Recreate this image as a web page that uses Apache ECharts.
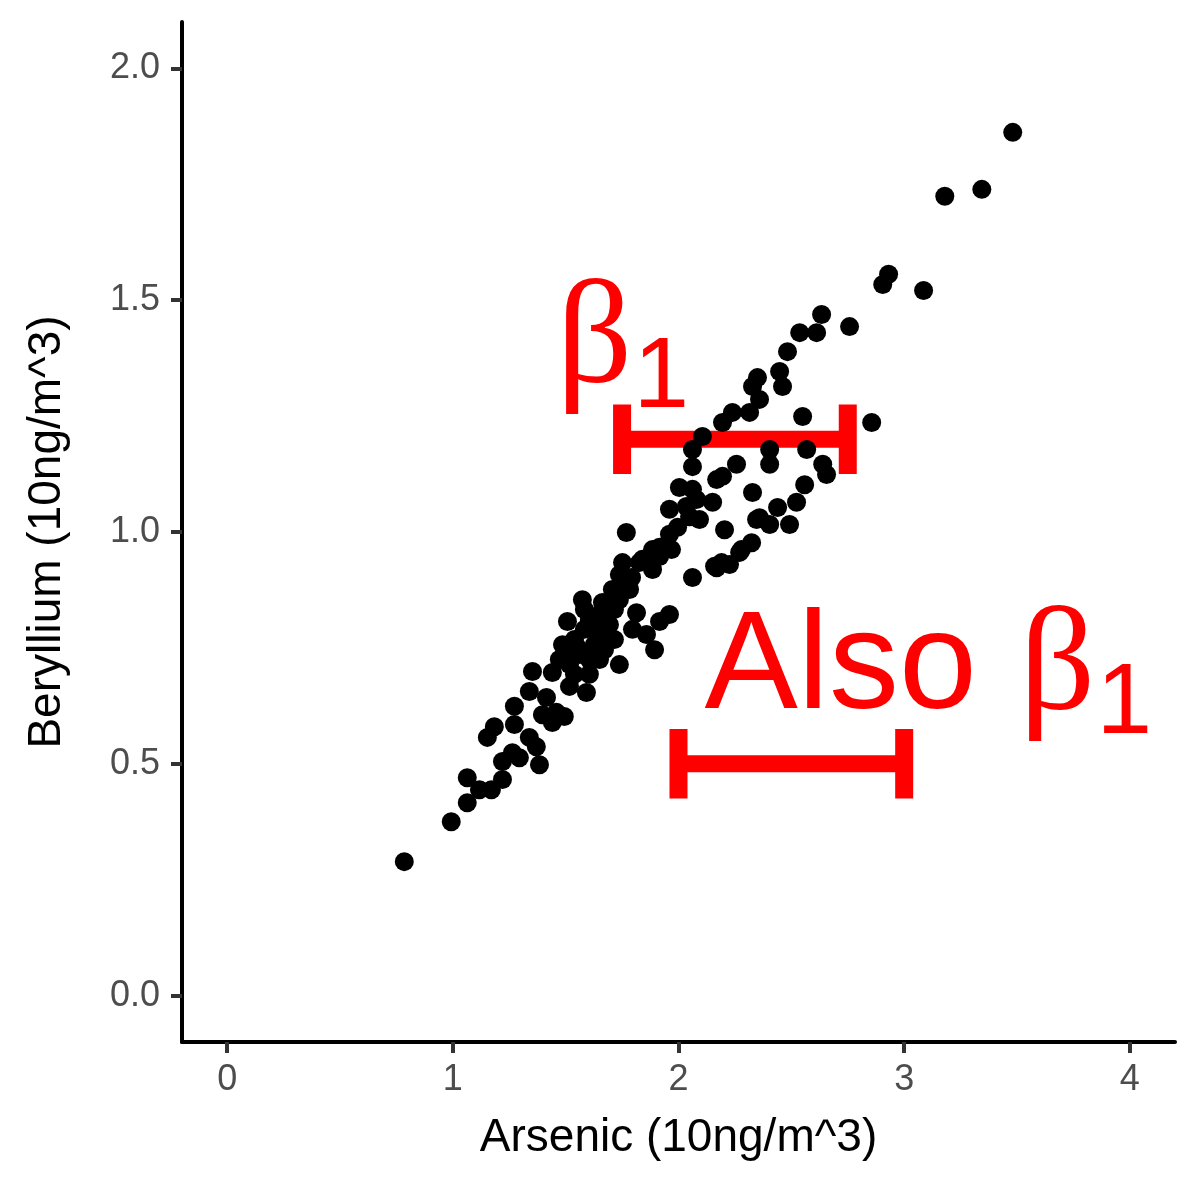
<!DOCTYPE html>
<html>
<head>
<meta charset="utf-8">
<script src="https://cdn.jsdelivr.net/npm/echarts@6/dist/echarts.min.js"></script>
<style>
html,body{margin:0;padding:0;background:#fff;}
#chart{width:1200px;height:1200px;}
</style>
</head>
<body>
<div id="chart"></div>
<script>
// ---- Data ----
const arsenic = [
  0.785,0.993,1.064,1.064,1.118,1.171,1.220,1.220,1.264,1.295,1.384,1.339,1.370,1.153,1.184,1.273,1.273,1.339,1.415,1.397,
  1.459,1.494,1.441,1.353,1.441,1.517,1.592,1.508,1.738,1.960,1.894,1.814,1.796,1.858,1.916,2.062,1.769,2.004,2.062,2.151,
  1.960,2.049,2.093,1.996,1.960,1.885,1.969,1.916,1.840,1.752,1.885,2.204,2.328,2.346,2.324,2.271,2.226,2.169,1.707,1.769,
  1.663,2.328,2.461,2.359,2.239,2.315,2.195,2.550,2.856,2.106,2.062,2.404,2.568,2.062,2.404,2.257,2.195,2.169,2.639,2.656,
  2.559,2.523,2.439,2.359,2.404,2.492,2.279,2.191,2.160,2.035,2.080,2.634,2.758,2.537,2.612,2.483,2.448,2.350,3.481,3.344,
  3.180,2.931,2.905,3.086,1.827,1.783,
  1.539,1.583,1.605,1.650,1.627,1.672,1.561,1.605,1.694,1.716,1.517,1.650,1.694,1.738,1.583,1.552,1.627,1.672,1.494,1.605,
  1.539,1.716,1.761,1.792,1.738,1.472,1.486,1.574,1.916
];
const beryllium = [
  0.289,0.375,0.416,0.470,0.444,0.444,0.466,0.505,0.524,0.513,0.498,0.557,0.537,0.557,0.580,0.585,0.624,0.656,0.643,0.606,
  0.611,0.602,0.589,0.699,0.697,0.667,0.654,0.807,0.714,0.822,0.746,0.826,0.790,0.779,0.807,0.902,0.999,1.096,1.092,1.064,
  1.049,1.033,1.027,1.010,0.995,0.962,0.962,0.947,0.941,0.934,0.919,1.005,1.085,1.027,0.977,0.956,0.930,0.923,0.876,0.891,
  0.848,1.314,1.314,1.286,1.258,1.258,1.236,1.249,1.236,1.206,1.178,1.178,1.178,1.141,1.146,1.146,1.120,1.113,1.146,1.124,
  1.102,1.064,1.053,1.031,1.016,1.016,0.962,0.934,0.926,1.055,1.070,1.469,1.443,1.430,1.430,1.389,1.346,1.333,1.862,1.739,
  1.724,1.556,1.534,1.521,0.934,0.876,
  0.768,0.790,0.811,0.822,0.757,0.768,0.736,0.725,0.800,0.768,0.714,0.725,0.844,0.854,0.833,0.751,0.790,0.746,0.736,0.693,
  0.693,0.833,0.887,0.902,0.908,0.725,0.757,0.854,0.967
];
const xTicks = [0, 1, 2, 3, 4];
const yTicks = [0, 0.5, 1.0, 1.5, 2.0];
// horizontal "beta" bars
const barXmin = [1.75, 2.0];
const barXmax = [2.75, 3.0];
const barY = [1.2, 0.5];
// annotation anchors (left end, baseline of text)
const annoX = [1.459, 2.115];
const annoY = [1.325, 0.621];
const annoPrefix = ['', 'Also'];

const points = arsenic.map((v, i) => [v, beryllium[i]]);
const bars = barXmin.map((v, i) => [v, barXmax[i], barY[i]]);
const annos = annoX.map((v, i) => [v, annoY[i], i]);

const RED = '#FF0000';
const chart = echarts.init(document.getElementById('chart'), null, {renderer: 'canvas'});
chart.setOption({
  animation: false,
  backgroundColor: '#ffffff',
  grid: {left: 182, right: 25, top: 22, bottom: 158},
  xAxis: {
    type: 'value', min: -0.2, max: 4.2,
    name: 'Arsenic (10ng/m^3)', nameLocation: 'middle', nameGap: 73,
    nameTextStyle: {fontFamily: 'Liberation Sans', fontSize: 46, color: '#000'},
    axisLine: {show: true, onZero: false, lineStyle: {color: '#000', width: 4}},
    axisTick: {show: true, length: 11, customValues: xTicks, lineStyle: {color: '#333', width: 4}},
    axisLabel: {customValues: xTicks, margin: 20, fontFamily: 'Liberation Sans', fontSize: 36, color: '#4D4D4D',
      formatter: v => String(v)},
    splitLine: {show: false}
  },
  yAxis: {
    type: 'value', min: -0.1, max: 2.1,
    name: 'Beryllium (10ng/m^3)', nameLocation: 'middle', nameGap: 112,
    nameTextStyle: {fontFamily: 'Liberation Sans', fontSize: 46, color: '#000'},
    axisLine: {show: true, onZero: false, lineStyle: {color: '#000', width: 4}},
    axisTick: {show: true, length: 11, customValues: yTicks, lineStyle: {color: '#333', width: 4}},
    axisLabel: {customValues: yTicks, margin: 22, fontFamily: 'Liberation Sans', fontSize: 36, color: '#4D4D4D',
      formatter: v => v.toFixed(1)},
    splitLine: {show: false}
  },
  series: [
    {
      type: 'scatter', data: points, symbol: 'circle', symbolSize: 19,
      itemStyle: {color: '#000', opacity: 1}, silent: true
    },
    {
      type: 'custom', data: bars, silent: true,
      renderItem: function (params, api) {
        const x1 = api.value(0), x2 = api.value(1), y = api.value(2);
        const pL = api.coord([x1, y]);
        const pR = api.coord([x2, y]);
        const top = api.coord([x1, y + 0.075])[1];
        const bot = api.coord([x1, y - 0.075])[1];
        const capW = 18, barH = 17;
        return {
          type: 'group',
          children: [
            {type: 'rect', shape: {x: pL[0], y: pL[1] - barH / 2, width: pR[0] - pL[0], height: barH}, style: {fill: RED}},
            {type: 'rect', shape: {x: pL[0] - capW / 2, y: top, width: capW, height: bot - top}, style: {fill: RED}},
            {type: 'rect', shape: {x: pR[0] - capW / 2, y: top, width: capW, height: bot - top}, style: {fill: RED}}
          ]
        };
      }
    },
    {
      type: 'custom', data: annos, silent: true, clip: false,
      renderItem: function (params, api) {
        const p = api.coord([api.value(0), api.value(1)]);
        const idx = api.value(2);
        const prefix = annoPrefix[idx];
        const children = [];
        let dx = 0;
        if (prefix) {
          children.push({type: 'text', style: {text: prefix, x: p[0], y: p[1] - 38.5,
            font: '140px "Liberation Sans"', fill: RED, align: 'left', verticalAlign: 'middle'}});
          dx = 315;
        }
        children.push({type: 'text', style: {text: 'β', x: p[0] + dx, y: p[1] - 38,
          font: '149px "Liberation Serif"', fill: RED, align: 'left', verticalAlign: 'middle'}});
        children.push({type: 'text', style: {text: '1', x: p[0] + dx + 77, y: p[1] - 2,
          font: '100px "Liberation Sans"', fill: RED, align: 'left', verticalAlign: 'middle'}});
        return {type: 'group', children: children};
      }
    }
  ]
});
</script>
</body>
</html>
